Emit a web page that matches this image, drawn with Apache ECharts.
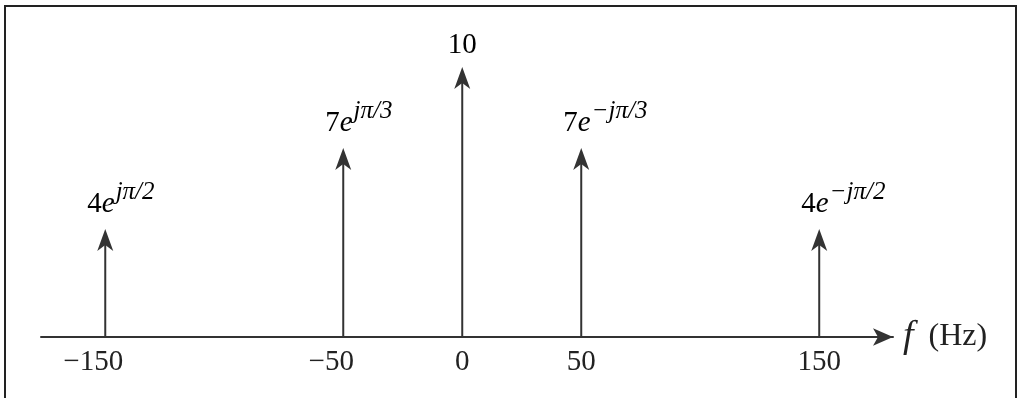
<!DOCTYPE html>
<html>
<head>
<meta charset="utf-8">
<script src="https://cdn.jsdelivr.net/npm/echarts@6/dist/echarts.min.js"></script>
<style>
  html, body { margin: 0; padding: 0; background: #ffffff; }
  #chart { width: 1020px; height: 398px; }
</style>
</head>
<body>
<div id="chart"></div>
<script>
// ---- data ----
var frequencies = [-150, -50, 0, 50, 150];          // Hz
var magnitudes = [4, 7, 10, 7, 4];                   // spectral line heights
var coefficients = ['4', '7', '10', '7', '4'];       // label base
var phaseExponents = ['jπ/2', 'jπ/3', '', '−jπ/3', '−jπ/2'];
var tickValues = [-150, -50, 0, 50, 150];
var axisName = 'f';
var axisUnit = '(Hz)';

var LINE = '#333333';
var TEXT = '#222222';
var SERIF = '"Liberation Serif", "DejaVu Serif", serif';

var seriesData = frequencies.map(function (f, i) { return [f, magnitudes[i]]; });

var chart = echarts.init(document.getElementById('chart'), null, { renderer: 'canvas' });

var labelRich = {
  b: { fontFamily: SERIF, fontSize: 29, color: TEXT, lineHeight: 30 },
  e: { fontFamily: SERIF, fontSize: 29, fontStyle: 'italic', color: TEXT, lineHeight: 30 },
  s: { fontFamily: SERIF, fontSize: 25, fontStyle: 'italic', color: TEXT, lineHeight: 25, padding: [0, 0, 23, 1] }
};

var option = {
  animation: false,
  backgroundColor: '#ffffff',
  grid: { left: 41, right: 127, top: 40, bottom: 61 },
  xAxis: {
    type: 'value',
    min: -177,
    max: 181,
    splitLine: { show: false },
    axisTick: { show: false },
    axisLine: {
      show: true,
      onZero: false,
      symbol: ['none', 'arrow'],
      symbolSize: [13, 20],
      lineStyle: { color: LINE, width: 2 }
    },
    axisLabel: {
      show: true,
      customValues: tickValues,
      margin: 11,
      fontFamily: SERIF,
      fontSize: 29,
      color: TEXT,
      formatter: function (v) {
        if (v < 0) return '−' + Math.abs(v) + '{p|}';
        return String(v);
      },
      rich: { p: { width: 24 } }
    },
    name: '{f|' + axisName + '}{h|' + axisUnit + '}',
    nameLocation: 'end',
    nameGap: 10,
    nameTextStyle: {
      verticalAlign: 'middle',
      align: 'left',
      rich: {
        f: { fontFamily: SERIF, fontSize: 38, fontStyle: 'italic', color: TEXT, padding: [0, 15, 0, 0] },
        h: { fontFamily: SERIF, fontSize: 32, color: TEXT }
      }
    }
  },
  yAxis: {
    type: 'value',
    min: 0,
    max: 11,
    show: false
  },
  series: [{
    type: 'custom',
    data: seriesData,
    encode: { x: 0, y: 1 },
    renderItem: function (params, api) {
      var i = params.dataIndex;
      var x = api.value(0), v = api.value(1);
      var p0 = api.coord([x, 0]);
      var p1 = api.coord([x, v]);
      var ah = 22, aw = 8, notch = 6;
      var hasExp = phaseExponents[i] !== '';
      var text = hasExp
        ? '{b|' + coefficients[i] + '}{e|e}{s|' + phaseExponents[i] + '}'
        : '{b|' + coefficients[i] + '}';
      return {
        type: 'group',
        children: [
          {
            type: 'line',
            shape: { x1: p0[0], y1: p0[1], x2: p1[0], y2: p1[1] + ah - notch },
            style: { stroke: LINE, lineWidth: 2 }
          },
          {
            type: 'polygon',
            shape: { points: [[p1[0], p1[1]], [p1[0] - aw, p1[1] + ah], [p1[0], p1[1] + ah - notch], [p1[0] + aw, p1[1] + ah]] },
            style: { fill: LINE }
          },
          {
            type: 'text',
            x: hasExp ? p1[0] - 18 : p1[0],
            y: hasExp ? p1[1] - 10 : p1[1] - 7,
            style: {
              text: text,
              rich: labelRich,
              align: hasExp ? 'left' : 'center',
              verticalAlign: 'bottom'
            }
          }
        ]
      };
    }
  }],
  graphic: [{
    type: 'rect',
    shape: { x: 5, y: 6, width: 1011, height: 400 },
    style: { fill: 'none', stroke: '#222222', lineWidth: 2 },
    silent: true
  }]
};

chart.setOption(option);
</script>
</body>
</html>
